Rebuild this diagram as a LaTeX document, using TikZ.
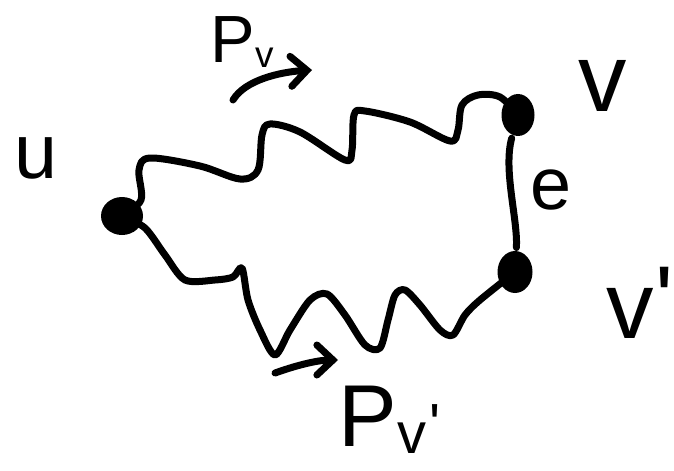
\documentclass[tikz,border=0pt]{standalone}
\usepackage{fontspec}
\setsansfont{Liberation Sans}
\usetikzlibrary{shapes.geometric,arrows.meta}
\begin{document}
\begin{tikzpicture}
  [x=0.2mm, y=-0.2mm, line width=1.4mm, line cap=round, line join=round,
   dot/.style={ellipse, fill, inner sep=0pt},
   hook/.style={-{Straight Barb[length=3.2mm, width=6mm, line cap=round]}}]
  \useasboundingbox (0,0) rectangle (674,470);
  \node[dot, minimum width=8.4mm, minimum height=7.6mm] (u) at (122,216) {};
  \node[dot, minimum width=6.6mm, minimum height=8.4mm] (v) at (518,115) {};
  \node[dot, minimum width=7mm, minimum height=8.4mm] (vp) at (515,272) {};
  \node[font=\fontsize{44}{46}\selectfont\sffamily] (lu) at (36,158) {u};
  \node[font=\fontsize{55}{58}\selectfont\sffamily] (lv) at (603,86) {v};
  \node[font=\fontsize{42}{44}\selectfont\sffamily] (le) at (551,190) {e};
  \node[font=\fontsize{54}{56}\selectfont\sffamily, anchor=base west, inner sep=0pt]
    (lvp) at (603,338) {v\kern1pt\raisebox{3pt}{\textquotesingle}};
  \node[font=\fontsize{38}{40}\selectfont\sffamily, anchor=base west, inner sep=0pt]
    (pv) at (207,63) {P\raisebox{-2.5pt}{\fontsize{21}{21}\selectfont v}};
  \node[font=\fontsize{50}{52}\selectfont\sffamily, anchor=base west, inner sep=0pt]
    (pvp) at (335,446) {P\raisebox{-4pt}{\fontsize{33}{33}\selectfont
      v\kern2pt\raisebox{5pt}{\textquotesingle}}};
  % paths
  \draw plot[smooth, tension=0.55] coordinates {(u) (141,200) (139,170) (150,158)
    (200,166) (240,179) (258,170) (262,135) (270,124) (300,132) (345,160) (352,150)
    (354,115) (365,111) (410,122) (450,141) (458,130) (462,105) (478,95) (500,97) (v)};
  \draw plot[smooth, tension=0.5] coordinates {(u) (145,228) (165,255) (185,280)
    (215,280) (233,277) (242,268) (248,300) (260,330) (275,355) (290,330) (310,300)
    (327,294) (345,315) (365,345) (380,348) (388,320) (395,295) (405,290) (420,305)
    (440,330) (453,335) (465,315) (480,300) (vp)};
  \draw (v) .. controls (503,170) and (518,220) .. (vp);
  % arrows
  \coordinate (a1) at (233,100);
  \coordinate (b1) at (312,70);
  \coordinate (a2) at (275,373);
  \coordinate (b2) at (338,360);
  \draw[hook] (a1) .. controls (245,80) and (280,72) .. (b1);
  \draw[hook] (a2) .. controls (300,364) and (320,360) .. (b2);
\end{tikzpicture}
\end{document}
